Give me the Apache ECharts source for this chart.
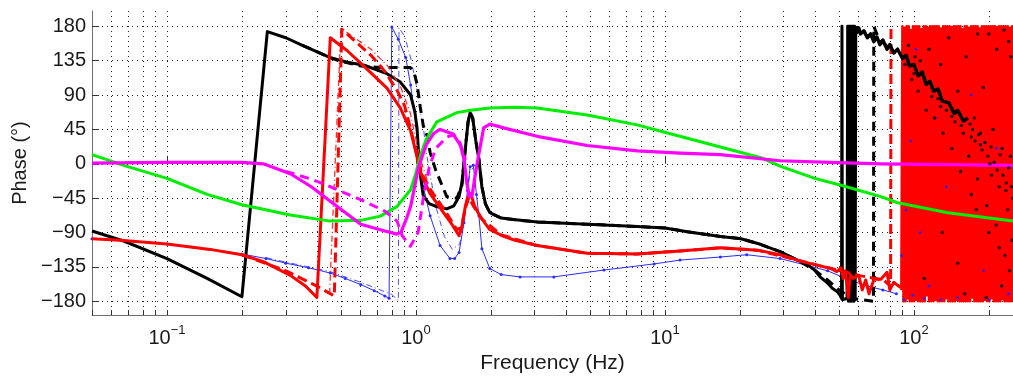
<!DOCTYPE html>
<html>
<head>
<meta charset="utf-8">
<script src="https://cdn.jsdelivr.net/npm/echarts@6/dist/echarts.min.js"></script>
<style>
html,body{margin:0;padding:0;background:#fff;}
#chart{width:1013px;height:379px;}
</style>
</head>
<body>
<div id="chart"></div>
<script>
// Axis ticks
const xDecadeHz = [0.1, 1, 10, 100];
const xTickHz = [0.05,0.06,0.07,0.08,0.09,0.1,0.2,0.3,0.4,0.5,0.6,0.7,0.8,0.9,1,2,3,4,5,6,7,8,9,10,20,30,40,50,60,70,80,90,100,200];
const yTickDeg = [-180,-135,-90,-45,0,45,90,135,180];

// Phase responses: [frequency Hz, phase deg]
const blackSolid = [[0.05,-88],[0.067,-101],[0.1,-124],[0.145,-150],[0.2,-174],[0.253,173],[0.3,165],[0.35,155],[0.453,139],[0.53,133],[0.62,129],[0.765,118],[0.866,107],[0.952,90],[0.99,68],[1.01,47],[1.025,13],[1.045,-18],[1.07,-42],[1.13,-52],[1.21,-56],[1.33,-59],[1.42,-55],[1.49,-43],[1.53,-25],[1.58,21],[1.62,55],[1.65,67],[1.69,60],[1.74,30],[1.79,6],[1.84,-30],[1.9,-52],[1.98,-64],[2.2,-71],[2.46,-73],[3.07,-76],[4.87,-79],[7.74,-82],[10,-84],[12.3,-89],[16.7,-95],[20.2,-98],[24,-105],[29,-115],[34,-126],[37,-131],[39.9,-139],[42,-148],[45,-156],[47,-163],[49.1,-167],[50.5,-172],[51.2,-176],[51.4,180],[51.6,-178],[53.9,-176],[54.2,180],[54.5,-180],[54.8,180],[55.1,-180],[55.4,180],[55.7,-180],[56,180],[56.3,-180],[56.6,180],[56.9,-180],[57.2,180],[57.5,-180],[57.8,180],[58.1,-178],[58.4,180]];
// Noisy continuation of the black response above ~58 Hz (drawn above the red noise)
const blackHigh = [[58.4,180],[59,172],[60,178],[61,170],[63,174],[65,165],[67,170],[69,160],[71,166],[73,156],[75,162],[78,150],[80,156],[83,145],[86,150],[90,138],[93,142],[96,128],[100,130],[104,115],[108,120],[112,104],[116,108],[120,95],[125,98],[130,82],[138,80],[145,66],[150,70],[158,56],[165,60]];
const blackDashed = [[0.35,155],[0.453,139],[0.49,135],[0.6,128],[0.72,126],[0.81,126],[0.95,126],[0.985,118],[1.01,105],[1.04,75],[1.07,50],[1.11,36],[1.14,15],[1.2,-8],[1.25,-22],[1.33,-43],[1.46,-45],[1.53,-28],[1.58,21],[1.62,55],[1.65,67],[1.69,60],[1.74,30],[1.79,6],[1.84,-30],[1.9,-52],[1.98,-64],[2.2,-71],[2.46,-73],[3.07,-76],[4.87,-79],[7.74,-82],[10,-84],[12.3,-89],[16.7,-95],[20.2,-98],[24,-105],[29,-115],[34,-126],[39.9,-139],[45,-152],[50,-165],[56,-176],[68.8,-180],[69,180],[72,165],[80,150]];
const redSolid = [[0.05,-98],[0.065,-100],[0.1,-105],[0.149,-112],[0.2,-119],[0.244,-128],[0.313,-146],[0.36,-160],[0.4,-175],[0.453,165],[0.53,148],[0.636,124],[0.765,99],[0.866,73],[0.952,43],[1.01,9],[1.025,-4],[1.07,-20],[1.14,-39],[1.29,-64],[1.4,-80],[1.49,-94],[1.53,-82],[1.58,-55],[1.61,-45],[1.66,-39],[1.72,-55],[1.81,-69],[1.98,-86],[2.25,-95],[2.5,-100],[3.07,-107],[4.87,-117],[7.74,-118],[11.5,-114],[16.7,-110],[23.5,-113],[29,-119],[34,-126],[40,-132],[46.4,-137],[49,-141],[51,-136],[52,-150],[53,-140],[54.5,-175],[55.5,-145],[57,-150],[60,-146],[62,-165],[64,-152],[66,-170],[69.3,-150],[73.7,-151],[78,-142],[80,-165],[83,-155],[86,-159],[88.5,-162]];
// Wrapped, noise-dominated phase above ~89 Hz
const redNoiseHz = [89.0,89.9,90.8,91.7,92.6,93.5,94.4,95.3,96.2,97.1,98.1,99.1,100.1,101.1,102.1,103.1,104.1,105.1,106.2,107.3,108.4,109.5,110.6,111.7,112.8,113.9,115.0,116.2,117.4,118.6,119.8,121.0,122.2,123.4,124.6,125.8,127.1,128.4,129.7,131.0,132.3,133.6,134.9,136.3,137.7,139.1,140.5,141.9,143.3,144.7,146.2,147.7,149.2,150.7,152.2,153.7,155.2,156.8,158.4,160.0,161.6,163.2,164.8,166.4,168.1,169.8,171.5,173.2,174.9,176.6,178.4,180.2,182.0,183.8,185.6,187.5,189.4,191.3,193.2,195.1,197.1,199.1,201.1,203.1,205.1,207.2,209.3,211.4,213.5,215.6,217.8,220.0,222.2,224.4,226.6,228.9,231.2,233.5,235.8,238.2,240.6,243.0,245.4,247.9,250.0];
const redNoiseDeg = [-165,180,-180,178,-180,180,-176,180,-180,175,-180,180,-180,180,-178,180,-180,180,-180,176,-180,180,-180,180,-172,178,-180,180,-180,180,-180,180,-178,180,-180,180,-180,177,-180,180,-180,180,-176,180,-180,180,-180,179,-180,180,-180,180,-178,180,-180,180,-180,176,-180,180,-180,180,-180,178,-180,180,-175,180,-180,180,-180,180,-180,177,-180,180,-180,180,-178,180,-180,180,-180,180,-176,180,-180,180,-180,179,-180,180,-180,180,-177,180,-180,180,-180,180,-180,178,-180,180,-180];
const redDashed = [[0.2,-119],[0.3,-140],[0.4,-160],[0.47,-173],[0.504,176],[0.6,154],[0.66,142],[0.75,121],[0.84,96],[0.9,76],[0.95,47],[1.01,11],[1.06,-14],[1.15,-35],[1.3,-60],[1.46,-86],[1.52,-84],[1.58,-58],[1.63,-44],[1.7,-55],[1.85,-73],[2.2,-93],[3.07,-107],[4.87,-117],[7.74,-118],[11.5,-114],[16.7,-110],[23.5,-113],[34,-126],[46.4,-137],[60,-146],[69.3,-150],[76,-153],[80.6,-160],[80.9,180]];
const redDashDot = [[0.45,-170],[0.5,178],[0.56,166],[0.66,150],[0.77,128],[0.87,100],[0.95,66],[1.0,32],[1.05,2],[1.12,-25]];
const blueSolid = [[0.05,-98],[0.1,-105],[0.15,-112],[0.2,-118],[0.25,-124],[0.3,-130],[0.37,-136],[0.453,-143],[0.52,-150],[0.6,-158],[0.68,-166],[0.75,-173],[0.78,-176],[0.8,179],[0.85,163],[0.91,139],[0.952,103],[1.0,50],[1.025,15],[1.07,-30],[1.14,-68],[1.25,-107],[1.37,-124],[1.43,-124],[1.49,-116],[1.56,-77],[1.61,-35],[1.65,-4],[1.7,-2],[1.75,-40],[1.79,-68],[1.84,-111],[1.98,-137],[2.2,-145],[2.62,-148],[3.58,-148],[5.69,-139],[9.05,-131],[11.5,-126],[16.7,-122],[21.3,-119],[29,-124],[37.3,-133],[45,-140],[55,-152],[65,-160],[75,-165],[85,-170]];
const blueDashDot = [[0.25,-123],[0.45,-141],[0.6,-155],[0.8,-171],[0.85,-179],[0.855,178],[0.9,167],[0.95,140],[1.0,105],[1.05,62],[1.07,49],[1.1,15],[1.2,-55],[1.3,-95],[1.4,-112],[1.5,-105],[1.58,-60],[1.65,-10],[1.7,-5]];
const greenSolid = [[0.05,12],[0.067,-2],[0.1,-19],[0.145,-40],[0.2,-53.5],[0.313,-67],[0.453,-75],[0.6,-74],[0.72,-68.5],[0.838,-56],[0.952,-34],[1.0,-12],[1.04,10],[1.1,32],[1.213,55],[1.46,67],[1.658,70],[1.98,73],[2.5,74],[3.07,73],[4.87,64],[7.74,51],[10.6,39],[16.7,22],[24.3,8],[29,-3],[40,-19],[51,-28],[73.7,-43],[86,-51],[137,-64],[250,-75]];
const magentaSolid = [[0.05,1],[0.1,2],[0.2,2],[0.244,0],[0.313,-13],[0.38,-30],[0.453,-49],[0.6,-79],[0.75,-88],[0.838,-92],[0.87,-90],[0.92,-70],[0.952,-56],[1.025,-4],[1.1,25],[1.18,40],[1.25,45],[1.41,39],[1.51,24],[1.56,6],[1.6,-25],[1.64,-43],[1.68,-42],[1.72,-20],[1.76,0],[1.87,47],[1.98,52],[2.25,47],[3.07,36],[4.87,24],[7.74,17],[11.5,14],[16.7,12],[29,4],[46,2],[73.7,0],[250,-2]];
const magentaDashed = [[0.3,-10],[0.38,-20],[0.453,-30],[0.62,-49],[0.75,-62],[0.84,-75],[0.88,-94],[0.95,-108],[1.02,-90],[1.07,-45],[1.13,-5],[1.2,20],[1.33,35],[1.42,38],[1.5,28],[1.58,5]];
const blueDots = [[89,-120],[91,-178],[93,-60],[97,30],[99,-172],[102,150],[106,-90],[110,-176],[115,-160],[122,60],[128,-178],[135,-30],[150,-175],[170,90],[190,-140],[200,-178],[215,20],[240,-170]];
const blackDots = [[92,130],[95,155],[98,110],[101,140],[104,95],[108,120],[112,70],[115,150],[118,100],[121,60],[125,85],[128,130],[131,40],[135,70],[138,165],[142,20],[146,55],[150,95],[154,-10],[158,40],[162,140],[166,10],[170,-40],[175,60],[180,-20],[185,25],[190,100],[196,-55],[202,0],[208,45],[214,-80],[220,-30],[226,20],[232,-120],[238,-60],[244,10],[248,-100],[110,-150],[130,-90],[160,-170],[200,170],[240,160],[150,-130],[180,170],[215,150],[230,175],[245,140],[195,-175],[225,-160],[100,118],[106,135],[118,88],[128,75],[142,62],[155,50],[170,35],[185,40],[205,-15],[235,-25],[168,52],[172,45],[176,30],[182,38],[188,18],[193,28],[198,10],[204,22],[210,2],[216,-8],[222,12],[228,-15],[234,-35],[240,-5],[246,-30],[250,-45],[178,-60],[200,-90],[220,-110],[242,-140]];

const redNoise = redNoiseHz.map((f, i) => [f, redNoiseDeg[i]]);

const FONT = '"Liberation Sans", Arial, sans-serif';
const MINUS = '\u2212';

function decadeLabel(v) {
  const e = Math.round(Math.log10(v));
  if (Math.abs(Math.log10(v) - e) > 1e-6) return '';
  return '{b|10}{e|' + (e < 0 ? MINUS + (-e) : String(e)) + '}';
}

function line(data, color, width, type, z, extra) {
  return Object.assign({
    type: 'line', data: data, z: z,
    showSymbol: false, symbol: 'none', smooth: false, silent: true,
    lineStyle: { color: color, width: width, type: type, cap: 'butt', join: 'round' },
    itemStyle: { color: color }
  }, extra || {});
}

const chart = echarts.init(document.getElementById('chart'), null, { renderer: 'canvas' });
chart.setOption({
  animation: false,
  backgroundColor: '#fff',
  grid: { left: 92, right: 0, top: 11, bottom: 58.3, containLabel: false },
  xAxis: [{
    type: 'log', logBase: 10, min: 0.05, max: 250, position: 'bottom',
    axisLine: { show: true, onZero: false, lineStyle: { color: '#6e6e6e', width: 1 } },
    axisTick: { show: true, inside: true, length: 5, customValues: xTickHz, lineStyle: { color: '#333' } },
    splitLine: { show: true, lineStyle: { color: '#222', width: 1, type: [1, 4] } },
    axisLabel: {
      customValues: xDecadeHz, formatter: decadeLabel, margin: 9,
      rich: {
        b: { fontSize: 20, fontFamily: FONT, color: '#1a1a1a', verticalAlign: 'bottom' },
        e: { fontSize: 13, fontFamily: FONT, color: '#1a1a1a', verticalAlign: 'bottom', padding: [0, 0, 11, 0] }
      }
    },
    name: 'Frequency (Hz)', nameLocation: 'middle', nameGap: 37,
    nameTextStyle: { fontSize: 21, fontFamily: FONT, color: '#1a1a1a' }
  }, {
    type: 'log', logBase: 10, min: 0.05, max: 250, position: 'bottom',
    axisLine: { show: false },
    axisTick: { show: true, inside: true, length: 8, customValues: xDecadeHz, lineStyle: { color: '#333' } },
    splitLine: { show: false },
    axisLabel: { show: false }
  }],
  yAxis: {
    type: 'value', min: -198, max: 200,
    axisLine: { show: true, onZero: false, lineStyle: { color: '#6e6e6e', width: 1 } },
    axisTick: { show: true, inside: true, length: 7, customValues: yTickDeg, lineStyle: { color: '#333' } },
    splitLine: { show: true, lineStyle: { color: '#222', width: 1, type: [1, 4] } },
    axisLabel: {
      customValues: yTickDeg, margin: 6, fontSize: 20, fontFamily: FONT, color: '#1a1a1a',
      formatter: v => String(v).replace('-', MINUS)
    },
    name: 'Phase (\u00b0)', nameLocation: 'middle', nameGap: 55,
    nameTextStyle: { fontSize: 20, fontFamily: FONT, color: '#1a1a1a' }
  },
  series: [
    line(blueDashDot, '#4d4dff', 1, [6, 3, 1, 3], 2),
    line(blueSolid, '#2b2bff', 1, 'solid', 3, { showSymbol: true, symbol: 'circle', symbolSize: 3 }),
    line(blackDashed, '#000', 3, [9, 6], 4),
    line(blackSolid, '#000', 3, 'solid', 5),
    line(redDashDot, '#ff3030', 1.3, [6, 3, 1, 3], 6),
    line(redDashed, '#ff0000', 3, [10, 5], 7),
    line(redSolid, '#ff0000', 3, 'solid', 8),
    line(redNoise, '#ff0000', 2.5, 'solid', 8),
    line(greenSolid, '#00ee00', 3, 'solid', 9),
    line(magentaDashed, '#ff00ff', 3, [9, 6], 9),
    line(magentaSolid, '#ff00ff', 3.2, 'solid', 10),
    { type: 'scatter', data: blueDots, symbolSize: 3, itemStyle: { color: '#2222ff' }, z: 11, silent: true },
    line(blackHigh, '#000', 3.5, 'solid', 12),
    { type: 'scatter', data: blackDots, symbolSize: 3.5, itemStyle: { color: '#000' }, z: 12, silent: true }
  ]
});
</script>
</body>
</html>
